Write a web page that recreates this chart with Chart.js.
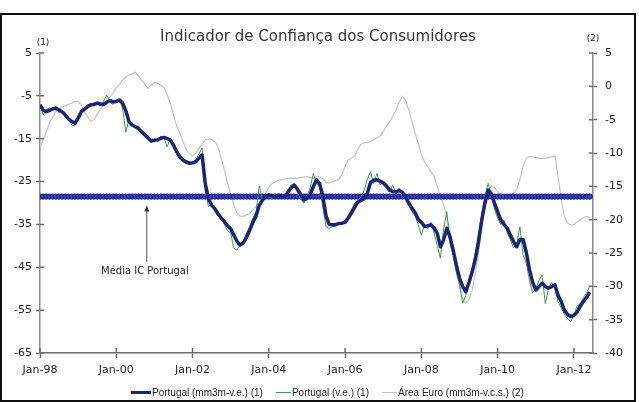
<!DOCTYPE html>
<html>
<head>
<meta charset="utf-8">
<script src="https://cdn.jsdelivr.net/npm/chart.js@4.4.1/dist/chart.umd.min.js"></script>
<style>
  html, body { margin: 0; padding: 0; background: #fff; }
  #frame {
    position: absolute; left: 0; top: 13px; width: 636px; height: 389px;
    border: 2px solid #111; box-sizing: border-box; background: #fff;
  }
  #wrap { position: absolute; left: 0; top: 0; width: 632px; height: 385px; }
  #legend {
    position: absolute; left: 129px; top: 371px; height: 12px;
    display: flex; align-items: center; gap: 13px;
    font: 10px "Liberation Sans", Arial, sans-serif; color: #222; white-space: nowrap;
  }
  #legend .item { display: flex; align-items: center; }
  #legend .swatch { display: inline-block; margin-right: 1px; }
</style>
</head>
<body>
<div id="frame">
  <div id="wrap"><canvas id="chart"></canvas></div>
  <div id="legend"></div>
</div>
<script>
// Indicador de Confiança dos Consumidores, monthly Jan-98 .. Jun-12
const xTickLabels = ['Jan-98', 'Jan-00', 'Jan-02', 'Jan-04', 'Jan-06', 'Jan-08', 'Jan-10', 'Jan-12'];
const leftTicks = [5, -5, -15, -25, -35, -45, -55, -65];
const rightTicks = [5, 0, -5, -10, -15, -20, -25, -30, -35, -40];

// Portugal (mm3m-v.e.) (1)
const portugalMM3 = [
  -7.1, -8.3, -8.7, -8.4, -8.0, -7.9, -8.3, -8.7, -9.5, -10.4, -11.0, -11.4,
  -10.2, -8.7, -8.1, -7.5, -7.1, -7.0, -6.7, -6.9, -7.0, -6.5, -6.1, -6.4,
  -6.3, -6.0, -6.7, -8.5, -11.0, -11.8, -12.2, -12.6, -13.4, -14.1, -14.8, -15.5,
  -15.4, -15.2, -14.9, -14.7, -15.0, -15.3, -16.5, -18.0, -19.2, -20.0, -20.4, -20.7,
  -20.6, -20.4, -19.6, -18.8, -25.5, -29.0, -30.5, -31.3, -32.5, -33.5, -34.3, -35.3,
  -36.0, -37.5, -39.0, -39.8, -39.3, -38.0, -36.3, -34.5, -33.0, -30.5, -29.3, -28.5,
  -28.1, -28.3, -28.5, -28.2, -28.3, -28.5, -27.5, -26.5, -25.8, -26.8, -28.0, -29.3,
  -29.0, -28.0, -26.2, -24.6, -25.5, -28.5, -33.0, -35.0, -35.1, -35.0, -34.8, -34.7,
  -34.5, -33.5, -32.3, -31.0, -29.8, -29.4, -29.0, -27.7, -25.2, -24.7, -24.6, -24.9,
  -25.3, -26.0, -27.0, -27.3, -27.4, -27.1, -27.5, -28.6, -30.0, -31.2, -32.2, -33.8,
  -34.5, -35.5, -35.3, -35.1, -35.8, -37.1, -40.2, -38.6, -35.9, -37.9, -41.0, -44.5,
  -47.5, -49.5, -50.7, -48.5, -46.0, -43.0, -39.0, -34.0, -30.0, -27.0, -27.8, -30.0,
  -32.0, -34.0, -35.0, -35.8, -37.5, -39.0, -40.2, -38.5, -38.5, -41.5, -45.5, -48.5,
  -50.3, -49.5, -48.7, -49.5, -49.9, -49.5, -49.1, -51.5, -53.0, -55.0, -56.0, -56.5,
  -56.2, -55.5, -54.0, -53.0, -52.0, -50.8
];

// Portugal (v.e.) (1)
const portugalVE = [
  -7.0, -9.5, -8.2, -7.8, -8.0, -7.4, -9.0, -8.5, -10.0, -10.2, -11.8, -12.0,
  -10.5, -8.2, -8.5, -7.0, -7.4, -6.6, -7.0, -7.3, -6.2, -4.8, -6.5, -7.0,
  -6.0, -5.8, -8.0, -13.5, -10.5, -12.0, -12.5, -12.0, -13.8, -14.5, -14.2, -16.0,
  -15.0, -15.8, -14.4, -14.8, -16.9, -14.9, -17.0, -18.5, -19.8, -20.2, -20.8, -21.0,
  -20.5, -20.0, -18.5, -17.2, -27.0, -30.9, -30.0, -31.8, -33.0, -33.2, -35.0, -36.5,
  -37.0, -40.6, -41.0, -39.5, -39.0, -37.0, -35.5, -33.5, -32.0, -26.0, -29.5, -28.0,
  -28.5, -29.0, -27.8, -28.8, -27.8, -29.0, -27.0, -25.8, -25.5, -27.5, -29.0, -30.0,
  -28.5, -26.5, -23.1, -25.5, -26.0, -31.0, -35.5, -36.0, -35.5, -35.5, -35.0, -34.5,
  -34.0, -33.0, -31.5, -30.0, -29.5, -28.5, -27.0, -24.5, -22.7, -25.5, -23.1, -25.8,
  -25.0, -26.5, -27.5, -25.8, -28.0, -26.5, -28.5, -29.0, -30.5, -32.0, -33.0, -35.0,
  -37.5, -35.0, -36.0, -34.5, -37.0, -40.0, -42.9, -36.0, -32.0, -39.5, -42.0, -46.0,
  -49.0, -53.4, -51.5, -48.0, -45.5, -41.5, -37.0, -32.5, -28.5, -25.4, -28.0, -31.5,
  -33.5, -35.0, -34.0, -37.0, -38.5, -40.5, -39.5, -35.5, -42.1, -44.0, -48.0, -51.0,
  -50.0, -48.0, -46.8, -53.5, -50.0, -48.5, -50.0, -53.0, -54.5, -56.0, -57.0, -57.7,
  -56.0, -54.0, -53.5, -52.0, -51.0, -49.3
];

// Área Euro (mm3m-v.c.s.) (2), right axis
const areaEuro = [
  -9.3, -8.0, -6.8, -5.5, -4.6, -3.8, -3.4, -3.1, -2.9, -2.7, -2.5, -2.3,
  -2.3, -2.8, -3.8, -4.6, -5.3, -5.0, -4.2, -3.4, -2.8, -2.1, -1.6, -1.0,
  -0.2, 0.3, 0.9, 1.4, 1.7, 1.9, 2.1, 1.5, 0.9, 0.3, -0.3, 0.2,
  0.6, 0.5, 0.2, -0.2, -1.2, -2.5, -4.2, -6.0, -7.0, -8.3, -9.5, -10.0,
  -10.5, -10.0, -9.3, -8.7, -8.0, -7.9, -8.0, -8.3, -9.0, -10.8, -12.5, -14.5,
  -16.2, -17.8, -19.0, -19.5, -19.5, -19.3, -19.0, -18.5, -18.0, -17.5, -16.8, -16.0,
  -15.1, -14.6, -14.3, -14.1, -14.0, -13.9, -13.8, -13.8, -13.8, -13.8, -13.7, -13.6,
  -13.5, -13.7, -13.8, -13.6, -13.5, -13.9, -14.4, -14.5, -14.3, -14.1, -14.0, -13.2,
  -12.0, -11.0, -10.8, -10.5, -9.5, -8.7, -8.5, -8.4, -8.3, -8.0, -7.7, -7.5,
  -6.8, -6.0, -5.3, -4.5, -3.6, -2.4, -1.5, -2.0, -3.5, -5.2, -7.0, -8.5,
  -10.2, -11.3, -12.1, -12.8, -13.5, -15.0, -16.5, -17.8, -19.5, -21.5, -25.0, -28.0,
  -30.0, -31.8, -32.5, -32.0, -30.5, -28.0, -25.0, -20.5, -17.0, -15.5, -15.0, -15.2,
  -15.8, -16.5, -16.7, -16.8, -16.6, -16.0, -15.5, -14.0, -12.0, -10.8, -10.5, -10.6,
  -10.7, -10.8, -10.8, -10.8, -10.7, -10.6, -10.5, -13.5, -17.0, -19.5, -20.5, -20.8,
  -20.7, -20.3, -20.0, -19.7, -19.5, -19.7
];

// Média IC Portugal
const portugalMean = -28.5;

const xMax = 174;
const toPoints = arr => arr.map((v, i) => ({ x: i, y: v }));
const meanPoints = portugalMM3.map((v, i) => ({ x: i, y: portugalMean }));

const tickFont = { family: 'DejaVu Sans', size: 11 };

// extra drawing: inner half of tick marks, (1)/(2) markers, mean annotation
const extras = {
  id: 'extras',
  afterDraw(chart) {
    const ctx = chart.ctx;
    const { x, yL, yR } = chart.scales;
    ctx.save();
    ctx.strokeStyle = '#6e6e6e';
    ctx.lineWidth = 1.5;
    ctx.beginPath();
    yL.ticks.forEach(t => {
      const py = yL.getPixelForValue(t.value);
      ctx.moveTo(yL.right, py); ctx.lineTo(yL.right + 4, py);
    });
    yR.ticks.forEach(t => {
      const py = yR.getPixelForValue(t.value);
      ctx.moveTo(yR.left - 4, py); ctx.lineTo(yR.left, py);
    });
    x.ticks.forEach(t => {
      const px = x.getPixelForValue(t.value);
      ctx.moveTo(px, x.top - 5); ctx.lineTo(px, x.top);
    });
    ctx.stroke();

    ctx.fillStyle = '#222';
    ctx.font = '9px "DejaVu Sans"';
    ctx.textAlign = 'center';
    ctx.textBaseline = 'middle';
    ctx.fillText('(1)', yL.right + 3, chart.chartArea.top - 10);
    ctx.fillText('(2)', yR.left, chart.chartArea.top - 14);

    // annotation arrow pointing at the mean line
    const ax = x.getPixelForValue(33.6);
    const tip = yL.getPixelForValue(-30.6);
    const tail = yL.getPixelForValue(-43.8);
    ctx.strokeStyle = '#555';
    ctx.lineWidth = 1;
    ctx.beginPath();
    ctx.moveTo(ax, tail); ctx.lineTo(ax, tip + 4);
    ctx.stroke();
    ctx.fillStyle = '#333';
    ctx.beginPath();
    ctx.moveTo(ax, tip); ctx.lineTo(ax - 2.5, tip + 6); ctx.lineTo(ax + 2.5, tip + 6);
    ctx.closePath(); ctx.fill();
    ctx.fillStyle = '#222';
    ctx.font = '10px "DejaVu Sans"';
    ctx.fillText('Média IC Portugal', x.getPixelForValue(33.0), yL.getPixelForValue(-45.9));
    ctx.restore();
  }
};

new Chart(document.getElementById('chart'), {
  type: 'line',
  data: {
    datasets: [
      {
        label: 'Portugal (mm3m-v.e.) (1)',
        data: toPoints(portugalMM3),
        yAxisID: 'yL',
        borderColor: '#1b2478',
        borderWidth: 3.5,
        borderJoinStyle: 'round',
        pointRadius: 0,
        order: 0
      },
      {
        label: 'Portugal (v.e.) (1)',
        data: toPoints(portugalVE),
        yAxisID: 'yL',
        borderColor: '#3f9a46',
        borderWidth: 1,
        pointRadius: 0,
        order: 1
      },
      {
        label: 'Média IC Portugal',
        data: meanPoints,
        yAxisID: 'yL',
        borderColor: '#1f2390',
        borderWidth: 4,
        pointRadius: 2.6,
        pointStyle: 'circle',
        pointBackgroundColor: '#3a3fb0',
        pointBorderColor: '#1a1d80',
        pointBorderWidth: 1,
        order: 2
      },
      {
        label: 'Área Euro (mm3m-v.c.s.) (2)',
        data: toPoints(areaEuro),
        yAxisID: 'yR',
        borderColor: '#c4c4c4',
        borderWidth: 1.2,
        pointRadius: 0,
        order: 3
      }
    ]
  },
  options: {
    responsive: true,
    maintainAspectRatio: false,
    animation: false,
    layout: { padding: { left: 0, right: 0, top: 0, bottom: 17 } },
    plugins: {
      legend: { display: false },
      tooltip: { enabled: false },
      title: {
        display: true,
        text: 'Indicador de Confiança dos Consumidores',
        color: '#333',
        font: { family: 'DejaVu Sans', size: 15, weight: 'normal' },
        padding: { top: 13, bottom: 7 }
      }
    },
    scales: {
      x: {
        type: 'linear',
        min: 0,
        max: xMax,
        afterBuildTicks: s => { s.ticks = xTickLabels.map((l, i) => ({ value: i * 24 })); },
        afterFit: s => { s.height = 30; },
        ticks: {
          autoSkip: false,
          maxRotation: 0,
          padding: 6,
          color: '#222',
          font: tickFont,
          callback: (v, i) => xTickLabels[i]
        },
        grid: { drawOnChartArea: false, tickLength: 5, tickColor: '#6e6e6e', tickWidth: 1.5 },
        border: { color: '#6e6e6e', width: 1.5 }
      },
      yL: {
        position: 'left',
        min: -65,
        max: 5,
        afterBuildTicks: s => { s.ticks = leftTicks.map(v => ({ value: v })); },
        afterFit: s => { s.width = 38; },
        ticks: { padding: 4, color: '#222', font: tickFont },
        grid: { drawOnChartArea: false, tickLength: 4, tickColor: '#6e6e6e', tickWidth: 1.5 },
        border: { color: '#8a8a8a', width: 1.5 }
      },
      yR: {
        position: 'right',
        min: -40,
        max: 5,
        afterBuildTicks: s => { s.ticks = rightTicks.map(v => ({ value: v })); },
        afterFit: s => { s.width = 41; },
        ticks: { padding: 8, color: '#222', font: tickFont },
        grid: { drawOnChartArea: false, tickLength: 4, tickColor: '#6e6e6e', tickWidth: 1.5 },
        border: { color: '#8a8a8a', width: 1.5 }
      }
    }
  },
  plugins: [extras]
});

// legend below the axis
const legendItems = [
  { text: 'Portugal (mm3m-v.e.) (1)', color: '#1b2478', w: 20, h: 3 },
  { text: 'Portugal (v.e.) (1)', color: '#3f9a46', w: 15, h: 1 },
  { text: 'Área Euro (mm3m-v.c.s.) (2)', color: '#c4c4c4', w: 15, h: 1 }
];
const legendEl = document.getElementById('legend');
legendItems.forEach(it => {
  const item = document.createElement('span');
  item.className = 'item';
  const sw = document.createElement('span');
  sw.className = 'swatch';
  sw.style.width = it.w + 'px';
  sw.style.height = it.h + 'px';
  sw.style.background = it.color;
  item.appendChild(sw);
  item.appendChild(document.createTextNode(it.text));
  legendEl.appendChild(item);
});
</script>
</body>
</html>
